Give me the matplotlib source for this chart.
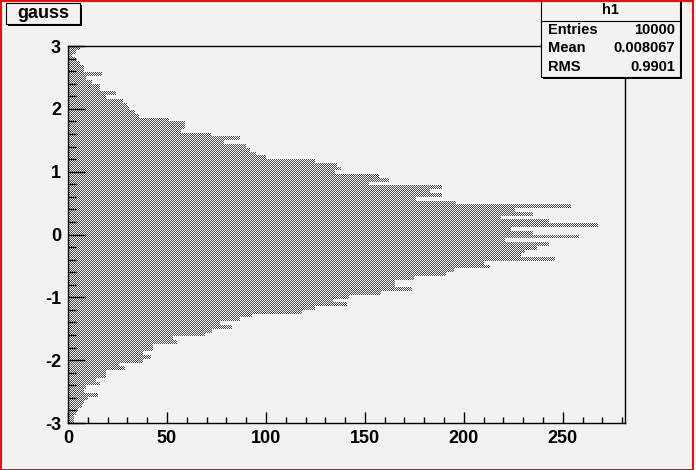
"""
ROOT-style horizontal histogram "h1" (gauss, 10000 entries, 100 bins on [-3, 3]).
Bars use a red checkerboard fill, like ROOT fill style 3001.
"""

import numpy as np
import matplotlib
matplotlib.use("Agg")
import matplotlib.pyplot as plt
from matplotlib.path import Path
from matplotlib.patches import Rectangle

W_PX, H_PX = 696, 470
BG = "#f2f2f2"

# histogram definition
Y_LO, Y_HI, N_BINS = -3.0, 3.0, 100

# bin contents, read from the top bin (y = 3) down to the bottom bin (y = -3)
counts_top_down = [
    6, 4, 2, 4, 6, 8, 8, 17, 9, 12,
    16, 16, 24, 19, 28, 30, 31, 34, 36, 51,
    59, 59, 57, 72, 87, 79, 90, 92, 95, 100,
    125, 136, 138, 135, 157, 162, 152, 189, 183, 189,
    176, 196, 254, 226, 235, 219, 243, 268, 224, 235,
    258, 221, 243, 237, 231, 229, 246, 210, 213, 195,
    191, 175, 165, 165, 174, 158, 142, 134, 141, 125,
    118, 93, 87, 77, 83, 73, 69, 53, 55, 43,
    43, 38, 42, 38, 26, 29, 19, 19, 14, 16,
    9, 8, 15, 10, 8, 7, 5, 4, 3, 3,
]

x_ticks = [0, 50, 100, 150, 200, 250]
y_ticks = [-3, -2, -1, 0, 1, 2, 3]

title = "gauss"
stats_name = "h1"
stats_rows = [("Entries", "10000"), ("Mean", "0.008067"), ("RMS", "0.9901")]

plt.rcParams["font.family"] = ["Liberation Sans", "DejaVu Sans"]
plt.rcParams["font.weight"] = "bold"
plt.rcParams["axes.unicode_minus"] = False


def fx(x):
    return x / W_PX


def fy(y):
    return 1 - y / H_PX


def main():
    counts = np.array(counts_top_down[::-1], dtype=float)
    edges = np.linspace(Y_LO, Y_HI, N_BINS + 1)
    centers = 0.5 * (edges[:-1] + edges[1:])
    bin_w = edges[1] - edges[0]
    xmax = 1.05 * counts.max()

    fig = plt.figure(figsize=(W_PX / 100, H_PX / 100), dpi=100, facecolor=BG)
    # frame at ROOT's 10% margins, snapped to whole pixels
    ax_w, ax_h = 557, 377
    ax = fig.add_axes([fx(68), fy(46 + ax_h), ax_w / W_PX, ax_h / H_PX])
    # axes drawn above the texture so ticks and frame stay on top
    ax.set_facecolor("none")
    ax.set_zorder(2)

    # bars (no fill of their own) -> clip path for the checkerboard texture
    bars = ax.barh(centers, counts, height=bin_w, left=0, color="none",
                   linewidth=0)
    paths = [p.get_patch_transform().transform_path(p.get_path()) for p in bars]
    clip = Path.make_compound_path(*paths)

    # pixel-exact checkerboard, no resampling
    yy, xx = np.mgrid[0:H_PX, 0:W_PX]
    checker = np.zeros((H_PX, W_PX, 4))
    checker[(xx + yy) % 2 == 1] = [1, 0, 0, 1]
    im = fig.figimage(checker, xo=0, yo=0, zorder=1)
    im.set_clip_path(clip, ax.transData)

    ax.set_xlim(0, xmax)
    ax.set_ylim(Y_LO, Y_HI)

    ax.set_xticks(x_ticks)
    ax.set_xticks(np.arange(0, xmax, 10), minor=True)
    ax.set_yticks(y_ticks)
    ax.set_yticks(np.arange(Y_LO, Y_HI + 0.01, 0.2), minor=True)

    ax.tick_params(axis="both", which="both", direction="in", colors="black",
                   labelsize=13, top=False, right=False)
    ax.tick_params(axis="y", which="major", length=12, width=1, pad=5)
    ax.tick_params(axis="y", which="minor", length=6, width=1)
    ax.tick_params(axis="x", which="major", length=8.2, width=1, pad=5)
    ax.tick_params(axis="x", which="minor", length=4.1, width=1)
    for lab in ax.get_xticklabels() + ax.get_yticklabels():
        lab.set_fontweight("bold")
    for sp in ax.spines.values():
        sp.set_linewidth(1)

    # title box with shadow
    fig.patches.append(Rectangle((fx(8), fy(26)), 74 / W_PX, 21 / H_PX,
                                 transform=fig.transFigure, facecolor="black",
                                 edgecolor="none", zorder=5))
    fig.patches.append(Rectangle((fx(6), fy(24)), 74 / W_PX, 21 / H_PX,
                                 transform=fig.transFigure, facecolor=BG,
                                 edgecolor="black", linewidth=0.8, zorder=6))
    fig.text(fx(43), fy(13.5), title, ha="center", va="center", fontsize=13,
             fontweight="bold", zorder=7)

    # stats box with shadow
    bx0, bx1, by0, by1 = 541, 680, -2, 77
    fig.patches.append(Rectangle((fx(bx0 + 2), fy(by1 + 2)), (bx1 - bx0) / W_PX,
                                 (by1 - by0) / H_PX, transform=fig.transFigure,
                                 facecolor="black", edgecolor="none", zorder=5))
    fig.patches.append(Rectangle((fx(bx0), fy(by1)), (bx1 - bx0) / W_PX,
                                 (by1 - by0) / H_PX, transform=fig.transFigure,
                                 facecolor=BG, edgecolor="black", linewidth=0.8,
                                 zorder=6))
    fig.add_artist(plt.Line2D([fx(bx0), fx(bx1)], [fy(20.5), fy(20.5)],
                              transform=fig.transFigure, color="black",
                              linewidth=0.8, zorder=7))
    fig.text(fx((bx0 + bx1) / 2), fy(10.5), stats_name, ha="center", va="center",
             fontsize=10.5, fontweight="bold", zorder=7)
    for i, (name, val) in enumerate(stats_rows):
        y = 30 + i * 18.5
        fig.text(fx(548), fy(y), name, ha="left", va="center", fontsize=10.5,
                 fontweight="bold", zorder=7)
        fig.text(fx(675), fy(y), val, ha="right", va="center", fontsize=10.5,
                 fontweight="bold", zorder=7)

    # red canvas border
    fig.patches.append(Rectangle((fx(0.5), fy(469.5)), 692 / W_PX, 469 / H_PX,
                                 transform=fig.transFigure, facecolor="none",
                                 edgecolor="red", linewidth=1.4, zorder=8))

    fig.savefig("out.png", dpi=100, facecolor=BG)
    plt.close(fig)


if __name__ == "__main__":
    main()
